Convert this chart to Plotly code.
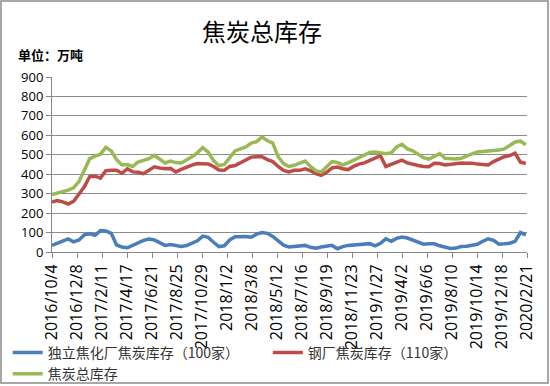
import datetime as dt
import plotly.graph_objects as go

# ---- data (biweekly readings, 万吨) ----
start_date = "2016-10-04"
step_days = 14

independent = [34, 45, 55, 67, 52, 62, 88, 94, 86, 110, 108, 96, 36, 26, 22, 35, 48, 60, 67, 62,
               48, 34, 38, 35, 28, 33, 45, 58, 82, 75, 50, 28, 32, 62, 78, 80, 80, 76, 92, 100,
               96, 80, 60, 35, 26, 28, 32, 34, 24, 19, 26, 32, 34, 17, 28, 34, 36, 36, 40, 43,
               32, 45, 68, 55, 70, 77, 72, 62, 50, 40, 42, 42, 32, 24, 18, 20, 28, 30, 34, 40,
               55, 68, 60, 40, 42, 45, 55, 100, 88]
steel = [257, 264, 258, 247, 260, 294, 335, 388, 390, 380, 418, 420, 420, 405, 428, 412, 410, 403, 420, 438,
         432, 428, 430, 412, 425, 437, 447, 455, 455, 453, 440, 422, 420, 440, 445, 460, 472, 488, 490, 490,
         475, 465, 440, 420, 412, 420, 420, 428, 418, 403, 394, 410, 432, 437, 428, 424, 440, 452, 458, 470,
         482, 495, 440, 450, 458, 472, 458, 450, 445, 440, 438, 456, 455, 448, 452, 455, 458, 456, 457, 452,
         448, 448, 465, 478, 490, 496, 508, 462, 455]
total = [295, 302, 309, 318, 330, 362, 420, 480, 493, 503, 538, 520, 475, 448, 450, 440, 463, 470, 480, 497,
         480, 458, 468, 460, 458, 472, 490, 510, 537, 514, 470, 444, 450, 485, 520, 530, 540, 560, 568, 592,
         572, 560, 490, 455, 440, 446, 458, 468, 440, 418, 411, 438, 465, 460, 448, 458, 472, 482, 500, 512,
         514, 510, 506, 510, 540, 554, 530, 520, 500, 485, 478, 490, 506, 482, 480, 478, 482, 496, 505, 514,
         516, 520, 520, 524, 530, 550, 566, 570, 552]

tick_labels = ["2016/10/4", "2016/12/8", "2017/2/11", "2017/4/17", "2017/6/21", "2017/8/25",
               "2017/10/29", "2018/1/2", "2018/3/8", "2018/5/12", "2018/7/16", "2018/9/19",
               "2018/11/23", "2019/1/27", "2019/4/2", "2019/6/6", "2019/8/10", "2019/10/14",
               "2019/12/18", "2020/2/21"]

names = ["独立焦化厂焦炭库存（100家）", "钢厂焦炭库存（110家）", "焦炭总库存"]
colors = ["#4A7EBB", "#BE4B48", "#98B954"]
legend_ids = ["legend", "legend2", "legend"]

d0 = dt.date.fromisoformat(start_date)
dates = [d0 + dt.timedelta(days=step_days * i) for i in range(len(total))]
tick_vals = [dt.date(*map(int, t.split("/"))) for t in tick_labels]

fig = go.Figure()
for name, ys, c, lg in zip(names, [independent, steel, total], colors, legend_ids):
    fig.add_trace(go.Scatter(x=dates, y=ys, name=name, mode="lines", legend=lg,
                             line=dict(color=c, width=3.5)))

W, H = 550, 386
ml, mr, mt, mb = 52, 23, 77, 134
pw, ph = W - ml - mr, H - mt - mb

legend_font = dict(size=14, color="#333", family="Noto Sans CJK SC")
fig.update_layout(
    width=W, height=H,
    margin=dict(l=ml, r=mr, t=mt, b=mb, autoexpand=False),
    paper_bgcolor="white", plot_bgcolor="white",
    font=dict(family="Noto Sans CJK SC", color="#000"),
    showlegend=True,
    legend=dict(orientation="v", xref="container", yref="container",
                x=0.014, y=0.127, xanchor="left", yanchor="top",
                font=legend_font, itemwidth=30, tracegroupgap=0,
                bgcolor="rgba(0,0,0,0)"),
    legend2=dict(orientation="v", xref="container", yref="container",
                 x=0.487, y=0.127, xanchor="left", yanchor="top",
                 font=legend_font, itemwidth=30, tracegroupgap=0,
                 bgcolor="rgba(0,0,0,0)"),
    annotations=[
        dict(text="焦炭总库存", xref="paper", yref="paper",
             x=(262 - ml) / pw, y=1 + (mt - 31) / ph, xanchor="center", yanchor="middle",
             showarrow=False, font=dict(size=24, family="Noto Sans CJK SC", color="#000")),
        dict(text="<b>单位：万吨</b>", xref="paper", yref="paper",
             x=(16 - ml) / pw, y=1 + (mt - 54) / ph, xanchor="left", yanchor="middle",
             showarrow=False, font=dict(size=13, family="Noto Sans CJK SC", color="#000")),
    ],
    shapes=[dict(type="rect", xref="paper", yref="paper",
                 x0=(1 - ml) / pw, x1=(548 - ml) / pw,
                 y0=1 + (mt - 383) / ph, y1=1 + (mt - 1) / ph,
                 line=dict(color="#8a8a8a", width=1.5), layer="below")],
)

fig.update_xaxes(type="date", range=[tick_vals[0], tick_vals[-1]],
                 tickvals=tick_vals, ticktext=tick_labels, tickangle=-90,
                 showgrid=False, showline=True, linecolor="#868686", linewidth=1,
                 ticks="outside", ticklen=5, tickcolor="#868686",
                 tickfont=dict(size=16, family="Open Sans", color="#000"))
fig.update_yaxes(range=[0, 900], dtick=100, showgrid=True, gridcolor="#8c8c8c", gridwidth=1,
                 showline=True, linecolor="#868686", linewidth=1, zeroline=False,
                 ticks="outside", ticklen=5, tickcolor="#868686",
                 tickfont=dict(size=13, family="Open Sans", color="#000"))

fig.write_html("out.html", config={"displayModeBar": False},
               post_script="document.body.style.margin='0';document.body.style.overflow='hidden';")
